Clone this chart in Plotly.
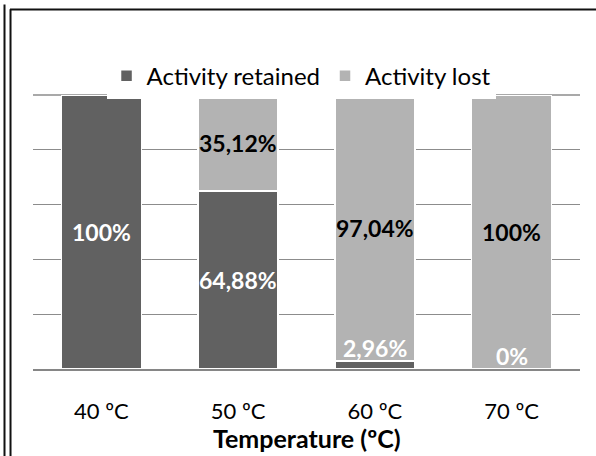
import plotly.graph_objects as go

categories = ["40 ºC", "50 ºC", "60 ºC", "70 ºC"]
retained = [100, 64.88, 2.96, 0]
lost = [0, 35.12, 97.04, 100]
retained_labels = ["100%", "64,88%", "2,96%", "0%"]
lost_labels = ["", "35,12%", "97,04%", "100%"]

DARK = "#616161"
LIGHT = "#b3b3b3"
FONT = "Lato"

fig = go.Figure()
fig.add_trace(go.Bar(x=categories, y=retained, name="Activity retained",
                     marker=dict(color=DARK, line=dict(color="white", width=1.5))))
fig.add_trace(go.Bar(x=categories, y=lost, name="Activity lost",
                     marker=dict(color=LIGHT, line=dict(color="white", width=1.5))))

annotations = []
for c, r, l, rl, ll in zip(categories, retained, lost, retained_labels, lost_labels):
    if r >= 10:
        annotations.append(dict(x=c, y=r / 2, text=f"<b>{rl}</b>", showarrow=False,
                                font=dict(color="white", size=23, family=FONT)))
    else:
        annotations.append(dict(x=c, y=r, text=f"<b>{rl}</b>", showarrow=False, yanchor="bottom",
                                yshift=-3, font=dict(color="white", size=23, family=FONT)))
    if ll:
        annotations.append(dict(x=c, y=r + l / 2, text=f"<b>{ll}</b>", showarrow=False,
                                font=dict(color="black", size=23, family=FONT)))

annotations.append(dict(xref="paper", yref="paper", x=0.5, y=-0.252, text="<b>Temperature (ºC)</b>",
                        showarrow=False, yanchor="middle",
                        font=dict(color="black", size=25, family=FONT)))

# frame lines (paper coords relative to plot area) and top gridline
shapes = [
    dict(type="line", xref="paper", yref="paper", x0=-0.0521, x1=-0.0521, y0=-0.33, y1=1.33,
         line=dict(color="#111111", width=2)),
    dict(type="line", xref="paper", yref="paper", x0=-0.0411, x1=-0.0411, y0=-0.33, y1=1.313,
         line=dict(color="#111111", width=2)),
    dict(type="line", xref="paper", yref="paper", x0=-0.0421, x1=1.05, y0=1.312, y1=1.312,
         line=dict(color="#111111", width=2)),
    dict(type="line", xref="paper", yref="paper", x0=0, x1=1, y0=1, y1=1, layer="below",
         line=dict(color="#8c8c8c", width=1.5)),
]

fig.update_layout(
    barmode="stack",
    bargap=0.415,
    width=596, height=456,
    margin=dict(l=33, r=16, t=95, b=87),
    paper_bgcolor="white", plot_bgcolor="white",
    font=dict(family=FONT, size=22, color="black"),
    showlegend=True,
    legend=dict(orientation="h", x=0.49, xanchor="center", y=1.069, yanchor="middle",
                font=dict(size=24, family=FONT), itemwidth=30, traceorder="normal"),
    annotations=annotations,
    shapes=shapes,
    xaxis=dict(showline=True, linecolor="#868686", linewidth=2, ticks="",
               ticklabelstandoff=22, tickfont=dict(size=22, family=FONT)),
    yaxis=dict(range=[0, 100], dtick=20, showgrid=True, gridcolor="#8c8c8c", gridwidth=1,
               showticklabels=False, zeroline=False, showline=False),
)

fig.write_html("out.html")
